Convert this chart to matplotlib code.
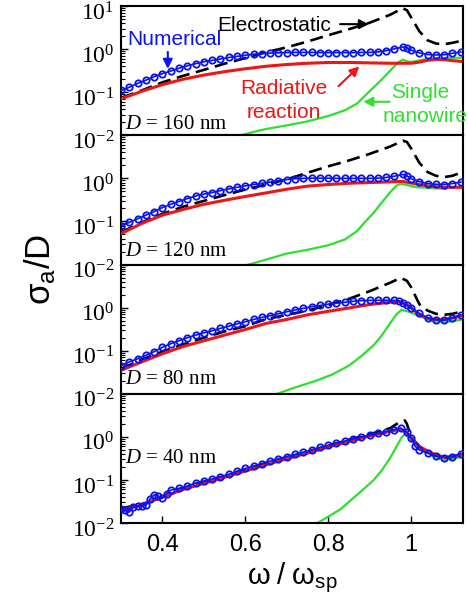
import numpy as np
import matplotlib
matplotlib.use("Agg")
import matplotlib.pyplot as plt
from matplotlib.transforms import ScaledTranslation

plt.rcParams.update({"font.family": "Liberation Sans",
                     "mathtext.fontset": "custom",
                     "mathtext.rm": "Liberation Serif",
                     "mathtext.it": "Liberation Serif:italic",
                     "mathtext.sf": "Liberation Sans"})

# ---- data: sigma_a / D vs omega / omega_sp ----
# D = 160 nm
x_es_160 = [0.30, 0.35, 0.40, 0.45, 0.50, 0.55, 0.60, 0.65, 0.70, 0.75, 0.80, 0.85, 0.90,
            0.95, 0.98, 0.99, 1.00, 1.02, 1.04, 1.06, 1.08, 1.10, 1.12]
y_es_160 = [0.074, 0.11, 0.17, 0.24, 0.33, 0.46, 0.62, 0.85, 1.1, 1.5, 2.1, 2.9, 4.1,
            6.3, 8.9, 8.0, 5.5, 2.6, 1.6, 1.35, 1.3, 1.4, 1.55]
x_num_160 = [0.30, 0.32, 0.34, 0.36, 0.38, 0.40, 0.42, 0.44, 0.46, 0.48, 0.50, 0.52, 0.54,
             0.56, 0.58, 0.60, 0.62, 0.64, 0.66, 0.68, 0.70, 0.72, 0.74, 0.76, 0.78, 0.80,
             0.82, 0.84, 0.86, 0.88, 0.90, 0.92, 0.94, 0.96, 0.98, 0.99, 1.00, 1.02, 1.04,
             1.06, 1.08, 1.10, 1.12]
y_num_160 = [0.11, 0.13, 0.16, 0.19, 0.23, 0.27, 0.31, 0.36, 0.41, 0.46, 0.51, 0.55, 0.59,
             0.64, 0.68, 0.72, 0.76, 0.79, 0.81, 0.82, 0.83, 0.84, 0.84, 0.84, 0.83, 0.83,
             0.83, 0.83, 0.83, 0.84, 0.84, 0.86, 0.92, 1.02, 1.12, 1.08, 0.95, 0.82, 0.75,
             0.73, 0.74, 0.80, 0.86]
x_rr_160 = [0.30, 0.35, 0.40, 0.45, 0.50, 0.55, 0.60, 0.65, 0.70, 0.75, 0.80, 0.85, 0.90,
            0.95, 0.98, 1.00, 1.02, 1.04, 1.06, 1.08, 1.10, 1.12]
y_rr_160 = [0.07, 0.105, 0.15, 0.20, 0.25, 0.30, 0.35, 0.40, 0.44, 0.47, 0.49, 0.49, 0.48,
            0.47, 0.47, 0.47, 0.50, 0.55, 0.58, 0.57, 0.54, 0.52]
x_sw_160 = [0.58, 0.62, 0.65, 0.70, 0.75, 0.80, 0.84, 0.87, 0.89, 0.91, 0.93, 0.95, 0.97,
            0.98, 0.99, 1.00, 1.02, 1.04, 1.08, 1.12]
y_sw_160 = [0.0095, 0.012, 0.014, 0.017, 0.021, 0.028, 0.038, 0.055, 0.085, 0.13, 0.2, 0.32,
            0.5, 0.57, 0.52, 0.50, 0.55, 0.60, 0.62, 0.63]

# D = 120 nm
x_es_120 = [0.30, 0.35, 0.40, 0.45, 0.50, 0.55, 0.60, 0.65, 0.70, 0.75, 0.80, 0.85, 0.90,
            0.95, 0.98, 0.99, 1.00, 1.02, 1.04, 1.06, 1.08, 1.10, 1.12]
y_es_120 = [0.056, 0.095, 0.15, 0.22, 0.30, 0.41, 0.55, 0.72, 0.95, 1.35, 1.9, 2.6, 3.7,
            5.5, 7.5, 7.0, 5.0, 2.3, 1.4, 1.15, 1.07, 1.15, 1.35]
x_num_120 = x_num_160
y_num_120 = [0.08, 0.095, 0.115, 0.14, 0.17, 0.21, 0.25, 0.29, 0.34, 0.39, 0.43, 0.47, 0.52,
             0.57, 0.62, 0.67, 0.72, 0.77, 0.82, 0.88, 0.94, 0.98, 1.0, 1.01, 1.01, 1.01,
             1.0, 1.0, 1.0, 1.0, 1.0, 1.01, 1.05, 1.12, 1.24, 1.15, 0.98, 0.84, 0.76,
             0.73, 0.72, 0.76, 0.82]
x_rr_120 = [0.30, 0.35, 0.40, 0.45, 0.50, 0.55, 0.60, 0.65, 0.70, 0.75, 0.80, 0.85, 0.90,
            0.95, 0.98, 1.00, 1.02, 1.04, 1.06, 1.08, 1.10, 1.12]
y_rr_120 = [0.052, 0.09, 0.14, 0.19, 0.25, 0.31, 0.38, 0.46, 0.56, 0.66, 0.72, 0.77, 0.80,
            0.83, 0.85, 0.78, 0.72, 0.67, 0.64, 0.62, 0.62, 0.62]
x_sw_120 = [0.60, 0.65, 0.70, 0.75, 0.80, 0.84, 0.87, 0.89, 0.91, 0.93, 0.95, 0.965, 0.975,
            0.99, 1.01, 1.04, 1.085]
y_sw_120 = [0.0095, 0.013, 0.018, 0.022, 0.028, 0.038, 0.06, 0.1, 0.16, 0.28, 0.48, 0.68,
            0.75, 0.70, 0.63, 0.60, 0.57]

# D = 80 nm
x_es_80 = [0.30, 0.35, 0.40, 0.45, 0.50, 0.55, 0.60, 0.65, 0.70, 0.75, 0.80, 0.85, 0.90,
           0.95, 0.975, 0.99, 1.00, 1.02, 1.04, 1.06, 1.08, 1.10, 1.12]
y_es_80 = [0.038, 0.062, 0.095, 0.14, 0.2, 0.28, 0.37, 0.54, 0.68, 0.85, 1.15, 1.6, 2.4,
           3.8, 4.9, 4.2, 3.0, 1.2, 0.85, 0.72, 0.68, 0.72, 0.80]
x_num_80 = [0.30, 0.32, 0.34, 0.36, 0.38, 0.40, 0.42, 0.44, 0.46, 0.48, 0.50, 0.52, 0.54,
            0.56, 0.58, 0.60, 0.62, 0.64, 0.66, 0.68, 0.70, 0.72, 0.74, 0.76, 0.78, 0.80,
            0.82, 0.84, 0.86, 0.88, 0.90, 0.92, 0.94, 0.96, 0.97, 0.98, 0.99, 1.00, 1.02,
            1.04, 1.06, 1.08, 1.10, 1.12]
y_num_80 = [0.045, 0.055, 0.065, 0.078, 0.095, 0.12, 0.145, 0.17, 0.2, 0.23, 0.26, 0.29,
            0.33, 0.37, 0.42, 0.47, 0.53, 0.59, 0.65, 0.72, 0.80, 0.88, 0.96, 1.05, 1.12,
            1.2, 1.27, 1.33, 1.4, 1.45, 1.47, 1.48, 1.48, 1.47, 1.45, 1.3, 1.12, 0.98,
            0.74, 0.58, 0.52, 0.51, 0.58, 0.68]
x_rr_80 = [0.30, 0.35, 0.40, 0.45, 0.50, 0.55, 0.60, 0.65, 0.70, 0.75, 0.80, 0.85, 0.90,
           0.95, 0.97, 0.99, 1.00, 1.02, 1.04, 1.06, 1.08, 1.10, 1.12]
y_rr_80 = [0.035, 0.055, 0.085, 0.125, 0.17, 0.23, 0.31, 0.43, 0.53, 0.68, 0.82, 0.98, 1.18,
           1.33, 1.38, 1.16, 1.0, 0.68, 0.56, 0.53, 0.53, 0.57, 0.64]
x_sw_80 = [0.67, 0.72, 0.77, 0.81, 0.85, 0.88, 0.91, 0.93, 0.95, 0.965, 0.977, 0.993, 1.02,
           1.055, 1.09, 1.12]
y_sw_80 = [0.0095, 0.014, 0.02, 0.028, 0.045, 0.075, 0.135, 0.23, 0.44, 0.7, 0.89, 0.81,
           0.64, 0.47, 0.47, 0.52]

# D = 40 nm
x_es_40 = [0.30, 0.35, 0.40, 0.45, 0.50, 0.55, 0.60, 0.65, 0.70, 0.75, 0.80, 0.85, 0.90,
           0.95, 0.975, 0.985, 0.99, 1.00, 1.02, 1.04, 1.06, 1.08, 1.10, 1.12]
y_es_40 = [0.022, 0.027, 0.04, 0.064, 0.088, 0.12, 0.17, 0.24, 0.33, 0.45, 0.62, 0.86, 1.15,
           1.6, 2.3, 2.4, 2.0, 1.0, 0.6, 0.45, 0.37, 0.33, 0.34, 0.38]
x_num_40 = [0.30, 0.31, 0.32, 0.33, 0.34, 0.35, 0.36, 0.37, 0.38, 0.39, 0.40, 0.41, 0.42,
            0.44, 0.46, 0.48, 0.50, 0.52, 0.54, 0.56, 0.58, 0.60, 0.62, 0.64, 0.66, 0.68,
            0.70, 0.72, 0.74, 0.76, 0.78, 0.80, 0.82, 0.84, 0.86, 0.88, 0.90, 0.92, 0.94,
            0.96, 0.975, 0.99, 1.00, 1.01, 1.02, 1.04, 1.06, 1.08, 1.10, 1.12]
y_num_40 = [0.021, 0.02, 0.018, 0.024, 0.025, 0.025, 0.026, 0.036, 0.045, 0.042, 0.038,
            0.048, 0.058, 0.064, 0.072, 0.085, 0.095, 0.105, 0.12, 0.135, 0.16, 0.185, 0.21,
            0.24, 0.275, 0.31, 0.35, 0.39, 0.44, 0.5, 0.57, 0.64, 0.72, 0.8, 0.9, 1.0, 1.1,
            1.2, 1.32, 1.48, 1.6, 1.3, 0.95, 0.6, 0.5, 0.42, 0.36, 0.33, 0.35, 0.41]
x_rr_40 = [0.30, 0.35, 0.40, 0.45, 0.50, 0.55, 0.60, 0.65, 0.70, 0.75, 0.80, 0.85, 0.90,
           0.95, 0.975, 0.99, 1.00, 1.02, 1.04, 1.06, 1.08, 1.10, 1.12]
y_rr_40 = [0.02, 0.026, 0.04, 0.06, 0.083, 0.115, 0.16, 0.225, 0.31, 0.42, 0.58, 0.78, 1.05,
           1.35, 1.5, 1.25, 0.95, 0.6, 0.47, 0.38, 0.34, 0.35, 0.38]
x_sw_40 = [0.77, 0.80, 0.83, 0.85, 0.88, 0.91, 0.93, 0.95, 0.965, 0.978, 0.985, 1.00, 1.02,
           1.04, 1.06, 1.08, 1.10, 1.12]
y_sw_40 = [0.0095, 0.014, 0.021, 0.031, 0.055, 0.1, 0.17, 0.33, 0.6, 1.0, 1.15, 0.85, 0.55,
           0.42, 0.33, 0.29, 0.31, 0.34]

panels = [
    ("160", x_es_160, y_es_160, x_num_160, y_num_160, x_rr_160, y_rr_160, x_sw_160, y_sw_160),
    ("120", x_es_120, y_es_120, x_num_120, y_num_120, x_rr_120, y_rr_120, x_sw_120, y_sw_120),
    ("80", x_es_80, y_es_80, x_num_80, y_num_80, x_rr_80, y_rr_80, x_sw_80, y_sw_80),
    ("40", x_es_40, y_es_40, x_num_40, y_num_40, x_rr_40, y_rr_40, x_sw_40, y_sw_40),
]
label_y = [0.0175, 0.020, 0.021, 0.32]   # where the "D = ..." tag sits
x_ticks = [0.4, 0.6, 0.8, 1.0]
x_ticklabels = ["0.4", "0.6", "0.8", "1"]

BLUE, RED, GREEN = "#0a14f0", "#f01414", "#2ee02e"

fig = plt.figure(figsize=(4.68, 6.05), dpi=100)
gs = fig.add_gridspec(4, 1, left=0.2585, right=0.989, top=0.990, bottom=0.1355, hspace=0)
axes = [fig.add_subplot(gs[i]) for i in range(4)]
shift = ScaledTranslation(0, -5 / 100, fig.dpi_scale_trans)

for i, (ax, (d, xe, ye, xn, yn, xr, yr, xs, ys)) in enumerate(zip(axes, panels)):
    ax.plot(xs, ys, color=GREEN, lw=1.6, zorder=2)
    ax.plot(xe, ye, color="black", lw=1.9, dashes=(5, 2.5), zorder=3)
    ax.plot(xr, yr, color=RED, lw=2.2, zorder=4)
    ax.plot(xn, yn, color=BLUE, lw=1.2, marker="o", ms=4.6, mfc="none", mew=1.3, zorder=5)
    ax.set_yscale("log")
    ax.set_ylim(1e-2, 1e1)
    ax.set_xlim(0.3, 1.125)
    for s in ax.spines.values():
        s.set_linewidth(1.5)
    ax.tick_params(axis="y", which="both", direction="in", right=False, labelsize=17, pad=5)
    ax.tick_params(axis="y", which="major", length=5, width=1)
    ax.tick_params(axis="y", which="minor", length=3, width=0.8)
    ax.set_yticks([1e-2, 1e-1, 1e0, 1e1])
    if i == 0:
        ax.set_yticklabels([r"$10^{-2}$", r"$10^{-1}$", r"$10^{0}$", r"$10^{1}$"])
    else:
        ax.set_yticklabels([r"$10^{-2}$", r"$10^{-1}$", r"$10^{0}$", ""])
    for lab in ax.get_yticklabels():
        lab.set_transform(lab.get_transform() + shift)
    ax.set_xticks(x_ticks)
    if i == 3:
        ax.set_xticklabels(x_ticklabels, fontsize=17)
        ax.tick_params(axis="x", direction="in", length=5, width=1, top=False, pad=8)
    else:
        ax.tick_params(axis="x", length=0, labelbottom=False)
    ax.text(0.309, label_y[i], r"$D$ = " + d + " nm",
            fontsize=15, family="Liberation Serif", ha="left", va="center")

a0 = axes[0]
a0.text(0.67, 3.6, "Electrostatic", fontsize=15, color="black", ha="center", va="center")
a0.annotate("", xy=(0.905, 3.8), xytext=(0.822, 3.8),
            arrowprops=dict(arrowstyle="-|>", color="black", lw=1.5, mutation_scale=14))
a0.text(0.43, 1.65, "Numerical", fontsize=15, color=BLUE, ha="center", va="center")
a0.annotate("", xy=(0.413, 0.30), xytext=(0.413, 1.0),
            arrowprops=dict(arrowstyle="-|>", color=BLUE, lw=1.5, mutation_scale=14))
a0.text(0.692, 0.12, "Radiative", fontsize=15, color=RED, ha="center", va="center")
a0.text(0.692, 0.034, "reaction", fontsize=15, color=RED, ha="center", va="center")
a0.annotate("", xy=(0.88, 0.44), xytext=(0.82, 0.125),
            arrowprops=dict(arrowstyle="-|>", color=RED, lw=1.5, mutation_scale=14))
a0.text(1.022, 0.098, "Single", fontsize=15, color=GREEN, ha="center", va="center")
a0.text(1.035, 0.027, "nanowire", fontsize=15, color=GREEN, ha="center", va="center")
a0.annotate("", xy=(0.878, 0.06), xytext=(0.955, 0.06),
            arrowprops=dict(arrowstyle="-|>", color=GREEN, lw=1.5, mutation_scale=14))

fig.text(0.085, 0.555, r"$\mathsf{\sigma_a/D}$", rotation=90, fontsize=25,
         ha="center", va="center")
fig.text(0.624, 0.045, r"$\mathsf{\omega\ /\ \omega_{sp}}$", fontsize=21,
         ha="center", va="center")

fig.savefig("out.png", dpi=100)
